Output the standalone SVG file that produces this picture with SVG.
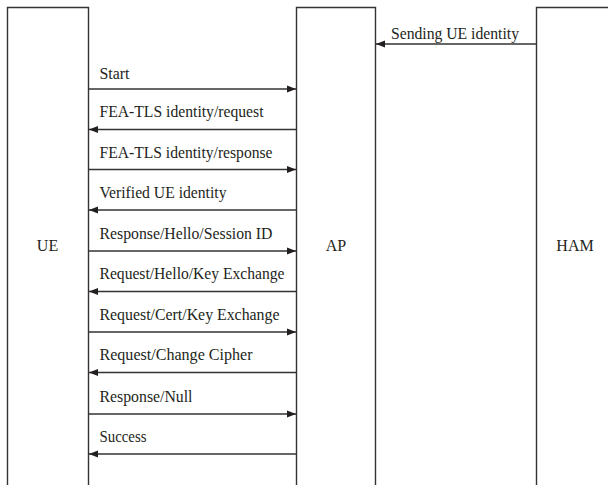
<svg xmlns="http://www.w3.org/2000/svg" width="608" height="485" viewBox="0 0 608 485">
<style>
  .box{fill:none;stroke:#333;stroke-width:1.4}
  .msg{stroke:#333;stroke-width:1.4;fill:none;marker-end:url(#ah)}
  text{font-family:"Liberation Serif","Times New Roman",serif;font-size:16px;fill:#231f20}
  .c{text-anchor:middle}
</style>
<defs>
  <marker id="ah" markerUnits="userSpaceOnUse" markerWidth="10" markerHeight="8" refX="9" refY="4" orient="auto">
    <path d="M0,0.5 L9,4 L0,7.5 z" fill="#231f20"/>
  </marker>
</defs>
<g id="UE">
  <path class="box" d="M7.5,485 V7.5 H88.5 V485"/>
  <text class="c" x="47.5" y="251">UE</text>
</g>
<g id="AP">
  <path class="box" d="M296.5,485 V7.5 H375.5 V485"/>
  <text class="c" x="336" y="251">AP</text>
</g>
<g id="HAM">
  <path class="box" d="M536.5,485 V7.5 H608"/>
  <text class="c" x="575" y="251">HAM</text>
</g>
<g id="connectors">
  <line class="msg" x1="536" y1="44" x2="376" y2="44"/>
  <text x="391" y="39" textLength="128" lengthAdjust="spacingAndGlyphs">Sending UE identity</text>
  <line class="msg" x1="89" y1="89" x2="296" y2="89"/>
  <text x="99.5" y="79" textLength="30" lengthAdjust="spacingAndGlyphs">Start</text>
  <line class="msg" x1="296" y1="129.5" x2="89" y2="129.5"/>
  <text x="99.5" y="117" textLength="164" lengthAdjust="spacingAndGlyphs">FEA-TLS identity/request</text>
  <line class="msg" x1="89" y1="169.5" x2="296" y2="169.5"/>
  <text x="99.5" y="158" textLength="173" lengthAdjust="spacingAndGlyphs">FEA-TLS identity/response</text>
  <line class="msg" x1="296" y1="210" x2="89" y2="210"/>
  <text x="99.5" y="198" textLength="127" lengthAdjust="spacingAndGlyphs">Verified UE identity</text>
  <line class="msg" x1="89" y1="251" x2="296" y2="251"/>
  <text x="99.5" y="239" textLength="173" lengthAdjust="spacingAndGlyphs">Response/Hello/Session ID</text>
  <line class="msg" x1="296" y1="291.5" x2="89" y2="291.5"/>
  <text x="99.5" y="279" textLength="185" lengthAdjust="spacingAndGlyphs">Request/Hello/Key Exchange</text>
  <line class="msg" x1="89" y1="332" x2="296" y2="332"/>
  <text x="99.5" y="320" textLength="180" lengthAdjust="spacingAndGlyphs">Request/Cert/Key Exchange</text>
  <line class="msg" x1="296" y1="372.5" x2="89" y2="372.5"/>
  <text x="99.5" y="360" textLength="153" lengthAdjust="spacingAndGlyphs">Request/Change Cipher</text>
  <line class="msg" x1="89" y1="414" x2="296" y2="414"/>
  <text x="99.5" y="402" textLength="93" lengthAdjust="spacingAndGlyphs">Response/Null</text>
  <line class="msg" x1="296" y1="454" x2="89" y2="454"/>
  <text x="99.5" y="442" textLength="47" lengthAdjust="spacingAndGlyphs">Success</text>
</g>
</svg>
